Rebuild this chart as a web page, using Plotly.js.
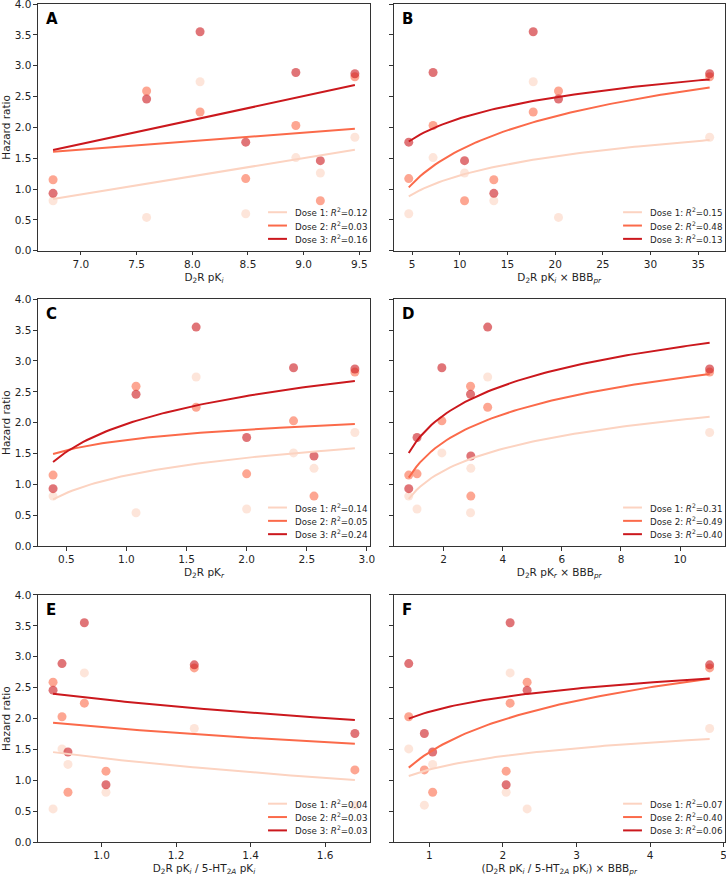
<!DOCTYPE html>
<html>
<head>
<meta charset="utf-8">
<script src="https://cdn.plot.ly/plotly-3.0.1.min.js"></script>
<style>
  html, body { margin: 0; padding: 0; background: #fff; }
  #chart { width: 726px; height: 876px; }
</style>
</head>
<body>
<div id="chart"></div>
<script>
// Hazard ratios of the seven drugs at each dose level
const hrDose1 = [0.81, 0.54, 2.74, 0.60, 1.51, 1.26, 1.84];
const hrDose2 = [1.15, 2.59, 2.25, 1.17, 2.03, 0.81, 2.82];
const hrDose3 = [0.93, 2.46, 3.55, 1.76, 2.89, 1.46, 2.87];

// Predictors (same drug order as above)
const d2rPKi      = [6.75, 7.59, 8.07, 8.48, 8.93, 9.15, 9.46];
const d2rPKiBBB   = [13.57, 20.35, 17.7, 4.65, 7.2, 10.5, 36.2];
const d2rPKr      = [0.39, 1.08, 1.58, 2.00, 2.39, 2.56, 2.90];
const d2rPKrBBB   = [0.82, 2.91, 3.49, 1.10, 1.94, 2.92, 11.0];
const pKiRatio    = [1.012, 0.870, 0.954, 1.68, 0.894, 0.910, 1.249];
const pKiRatioBBB = [2.044, 2.329, 2.098, 0.932, 0.72, 1.045, 4.81];

// Fitted models per dose (A: y = a + b*x, others: y = a + b*ln x)
const fitA_a = [-1.153, 0.676, -0.994], fitA_b = [0.295, 0.1376, 0.389];
const fitB_a = [0.194, -0.187, 1.016],  fitB_b = [0.446, 0.790, 0.491];
const fitC_a = [1.145, 1.720, 1.979],   fitC_b = [0.412, 0.242, 0.655];
const fitD_a = [0.867, 1.237, 1.645],   fitD_b = [0.512, 0.647, 0.688];
const fitE_a = [1.363, 1.862, 2.313],   fitE_b = [-0.684, -0.515, -0.645];
const fitF_a = [1.176, 1.456, 2.112],   fitF_b = [0.315, 0.758, 0.341];

// Coefficients of determination shown in the legends
const r2A = ['0.12', '0.03', '0.16'];
const r2B = ['0.15', '0.48', '0.13'];
const r2C = ['0.14', '0.05', '0.24'];
const r2D = ['0.31', '0.49', '0.40'];
const r2E = ['0.04', '0.03', '0.03'];
const r2F = ['0.07', '0.40', '0.06'];

const doseNames = ['Dose 1', 'Dose 2', 'Dose 3'];
const hrByDose = [hrDose1, hrDose2, hrDose3];
const doseColors = ['#fcd3c1', '#fb6a4a', '#cb181d'];

const BBB = 'BBB<sub><i>pr</i></sub>';
const panels = [
  { letter: 'A', x: d2rPKi, model: 'lin', a: fitA_a, b: fitA_b, r2: r2A,
    title: 'D<sub>2</sub>R pK<sub><i>i</i></sub>', dtick: 0.5, fmt: '.1f' },
  { letter: 'B', x: d2rPKiBBB, model: 'log', a: fitB_a, b: fitB_b, r2: r2B,
    title: 'D<sub>2</sub>R pK<sub><i>i</i></sub> × ' + BBB, dtick: 5, fmt: 'd' },
  { letter: 'C', x: d2rPKr, model: 'log', a: fitC_a, b: fitC_b, r2: r2C,
    title: 'D<sub>2</sub>R pK<sub><i>r</i></sub>', dtick: 0.5, fmt: '.1f' },
  { letter: 'D', x: d2rPKrBBB, model: 'log', a: fitD_a, b: fitD_b, r2: r2D,
    title: 'D<sub>2</sub>R pK<sub><i>r</i></sub> × ' + BBB, dtick: 2, fmt: 'd' },
  { letter: 'E', x: pKiRatio, model: 'log', a: fitE_a, b: fitE_b, r2: r2E,
    title: 'D<sub>2</sub>R pK<sub><i>i</i></sub> / 5-HT<sub>2<i>A</i></sub> pK<sub><i>i</i></sub>', dtick: 0.2, fmt: '.1f' },
  { letter: 'F', x: pKiRatioBBB, model: 'log', a: fitF_a, b: fitF_b, r2: r2F,
    title: '(D<sub>2</sub>R pK<sub><i>i</i></sub> / 5-HT<sub>2<i>A</i></sub> pK<sub><i>i</i></sub>) × ' + BBB, dtick: 1, fmt: 'd' }
];

// Subplot placement (paper fractions)
const colDomains = [[0.0523, 0.5096], [0.5423, 0.9982]];
const rowDomains = [[0.7138, 0.9954], [0.3767, 0.6583], [0.0385, 0.3208]];

const FONT = 'DejaVu Sans';
const AXIS_COLOR = '#333333';
const TEXT_COLOR = '#1f1f1f';

const traces = [];
const layout = {
  width: 726, height: 876,
  margin: { l: 0, r: 0, t: 0, b: 0 },
  paper_bgcolor: '#ffffff', plot_bgcolor: '#ffffff',
  showlegend: false,
  font: { family: FONT, size: 10.5, color: TEXT_COLOR },
  shapes: [], annotations: []
};

// legend geometry inside each axes (domain fractions)
const legRows = [0.156, 0.102, 0.048];
const legLine = [0.693, 0.750];
const legText = 0.768;

panels.forEach((p, i) => {
  const n = i + 1;
  const xa = 'x' + (n === 1 ? '' : n), ya = 'y' + (n === 1 ? '' : n);
  const col = i % 2, row = Math.floor(i / 2);
  const xmin = Math.min(...p.x), xmax = Math.max(...p.x);
  const pad = 0.05 * (xmax - xmin);

  // scatter of hazard ratios
  hrByDose.forEach((hr, d) => {
    traces.push({
      type: 'scatter', mode: 'markers', x: p.x, y: hr,
      xaxis: xa, yaxis: ya, hoverinfo: 'skip', cliponaxis: false,
      marker: { size: 9, color: doseColors[d], opacity: 0.6, line: { width: 0 } }
    });
  });

  // fitted curves across the observed range
  hrByDose.forEach((hr, d) => {
    const fx = [], fy = [];
    const steps = 80;
    for (let k = 0; k <= steps; k++) {
      const xv = xmin + (xmax - xmin) * k / steps;
      fx.push(xv);
      fy.push(p.model === 'lin' ? p.a[d] + p.b[d] * xv : p.a[d] + p.b[d] * Math.log(xv));
    }
    traces.push({
      type: 'scatter', mode: 'lines', x: fx, y: fy,
      xaxis: xa, yaxis: ya, hoverinfo: 'skip',
      line: { color: doseColors[d], width: 2 }
    });
  });

  const xKey = 'xaxis' + (n === 1 ? '' : n), yKey = 'yaxis' + (n === 1 ? '' : n);
  layout[xKey] = {
    domain: colDomains[col], anchor: ya,
    range: [xmin - pad, xmax + pad], dtick: p.dtick, tick0: 0, tickformat: p.fmt,
    showline: true, mirror: true, linecolor: AXIS_COLOR, linewidth: 1,
    ticks: 'outside', ticklen: 3.5, tickwidth: 1, tickcolor: AXIS_COLOR,
    showgrid: false, zeroline: false, fixedrange: true,
    ticklabeloverflow: 'allow',
    tickfont: { family: FONT, size: 10.5, color: TEXT_COLOR },
    title: { text: p.title, font: { family: FONT, size: 10.5, color: TEXT_COLOR }, standoff: 4 }
  };
  layout[yKey] = {
    domain: rowDomains[row], anchor: xa,
    range: [0, 4], dtick: 0.5, tick0: 0, tickformat: '.1f',
    showline: true, mirror: true, linecolor: AXIS_COLOR, linewidth: 1,
    ticks: 'outside', ticklen: 3.5, tickwidth: 1, tickcolor: AXIS_COLOR,
    showgrid: false, zeroline: false, fixedrange: true,
    ticklabeloverflow: 'allow',
    showticklabels: col === 0,
    tickfont: { family: FONT, size: 10.5, color: TEXT_COLOR },
    title: col === 0 ? { text: 'Hazard ratio', font: { family: FONT, size: 10.5, color: TEXT_COLOR }, standoff: 6 } : { text: '' }
  };

  // panel letter
  layout.annotations.push({
    xref: xa + ' domain', yref: ya + ' domain', x: 0.018, y: 0.985,
    xanchor: 'left', yanchor: 'top', showarrow: false,
    text: '<b>' + p.letter + '</b>',
    font: { family: FONT, size: 15, color: '#000000' }
  });

  // legend: line sample + label per dose
  doseNames.forEach((name, d) => {
    layout.shapes.push({
      type: 'line', xref: xa + ' domain', yref: ya + ' domain',
      x0: legLine[0], x1: legLine[1], y0: legRows[d], y1: legRows[d],
      line: { color: doseColors[d], width: 2 }
    });
    layout.annotations.push({
      xref: xa + ' domain', yref: ya + ' domain', x: legText, y: legRows[d],
      xanchor: 'left', yanchor: 'middle', showarrow: false,
      text: name + ': <i>R</i><sup>2</sup>=' + p.r2[d],
      font: { family: FONT, size: 8.7, color: TEXT_COLOR }
    });
  });
});

Plotly.newPlot('chart', traces, layout, { staticPlot: true, displayModeBar: false });
</script>
</body>
</html>
